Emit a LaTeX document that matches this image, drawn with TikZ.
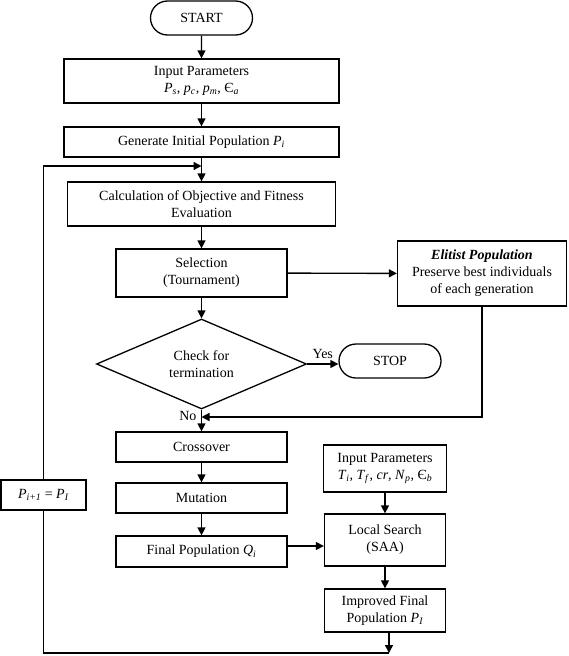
\documentclass[tikz,border=0pt]{standalone}
\usepackage{fontspec}
\setmainfont{Liberation Serif}
\usetikzlibrary{shapes.geometric,shapes.misc,arrows.meta}
\newcommand{\ivar}[1]{\textit{#1}}
\newcommand{\sbi}[1]{\textsubscript{\textit{#1}}}
\begin{document}
\begin{tikzpicture}[x=1pt,y=-1pt, font=\fontsize{14}{17}\selectfont,
 box/.style={draw, line width=1.3pt, align=center, inner sep=0pt},
 arr/.style={-{Triangle[length=8pt,width=8pt]}, line width=1.4pt},
 ln/.style={line width=1.4pt}]
\useasboundingbox (0,0) rectangle (568,656);
\node[box, rounded rectangle, minimum width=102pt, minimum height=34pt] (start) at (201.5,18) {START};
\node[box, minimum width=275pt, minimum height=44pt] (inp1) at (201.5,81) {Input Parameters\\\ivar{P}\sbi{s}, \ivar{p}\sbi{c}, \ivar{p}\sbi{m}, Є\sbi{a}};
\node[box, minimum width=275pt, minimum height=30pt] (gen) at (201.5,142) {Generate Initial Population \ivar{P}\sbi{i}};
\node[box, minimum width=268pt, minimum height=44pt] (calc) at (201.5,204) {Calculation of Objective and Fitness\\Evaluation};
\node[box, minimum width=171pt, minimum height=48pt] (sel) at (201.5,273) {Selection\\(Tournament)};
\node[box, minimum width=169pt, minimum height=65pt] (elit) at (482,273.5) {\textbf{\textit{Elitist Population}}\\Preserve best individuals\\of each generation};
\node[box, diamond, aspect=2.333, minimum width=210pt, minimum height=90pt] (dia) at (201.5,364) {Check for\\termination};
\node[box, rounded rectangle, minimum width=102pt, minimum height=34pt] (stop) at (390,361) {STOP};
\node[box, minimum width=171pt, minimum height=30pt] (cross) at (201.5,447) {Crossover};
\node[box, minimum width=123pt, minimum height=47pt] (inp2) at (385,468.5) {Input Parameters\\\ivar{T}\sbi{i}, \ivar{T}\sbi{f}, \ivar{cr}, \ivar{N}\sbi{p}, Є\sbi{b}};
\node[box, minimum width=171pt, minimum height=30pt] (mut) at (201.5,498) {Mutation};
\node[box, minimum width=85pt, minimum height=30pt] (pbox) at (43.5,495) {\ivar{P}\sbi{i+1} = \ivar{P}\sbi{I}};
\node[box, minimum width=121pt, minimum height=52pt] (ls) at (385,540) {Local Search\\(SAA)};
\node[box, minimum width=171pt, minimum height=31pt] (q) at (201.5,551.5) {Final Population \ivar{Q}\sbi{i}};
\node[box, minimum width=121pt, minimum height=43pt] (imp) at (385,610.5) {Improved Final\\Population \ivar{P}\sbi{I}};
\coordinate (loopj) at (201.5,166);
\coordinate (elj) at (201.5,417);
\coordinate (bot) at (389,653);
\draw[arr] (start) -- (inp1);
\draw[arr] (inp1) -- (gen);
\draw[arr] (gen) -- (calc);
\draw[arr] (calc) -- (sel);
\draw[arr] (sel) -- (dia);
\draw[arr] (dia) -- (cross) node[pos=0.3, left=1pt] {No};
\draw[arr] (cross) -- (mut);
\draw[arr] (mut) -- (q);
\draw[arr] (sel) -- (elit);
\draw[arr] (dia.east) -- (dia.east -| stop.west) node[pos=0.5, above=1pt] {Yes};
\draw[arr] (elit) |- (elj);
\draw[arr] (inp2) -- (ls);
\draw[arr] ([yshift=5.5pt]q.east) -- ([yshift=5.5pt]q.east -| ls.west);
\draw[arr] (ls) -- (imp);
\draw[arr] (imp.south -| bot) -- (bot);
\draw[ln] (bot) -| (pbox.south);
\draw[arr] (pbox.north) |- (loopj);
\end{tikzpicture}
\end{document}
